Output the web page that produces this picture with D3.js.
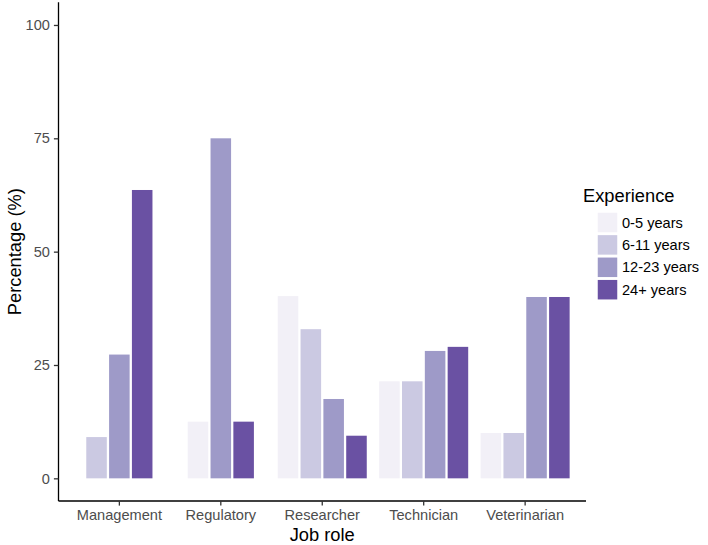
<!DOCTYPE html>
<html>
<head>
<meta charset="utf-8">
<script src="https://cdn.jsdelivr.net/npm/d3@7"></script>
<style>
  body { margin: 0; background: #fff; }
  svg text { font-family: "Liberation Sans", Arial, sans-serif; }
</style>
</head>
<body>
<div class="chart"></div>
<script>
// job roles along the x axis
const roles = ["Management", "Regulatory", "Researcher", "Technician", "Veterinarian"];
// experience bands (fill)
const groups = ["0-5 years", "6-11 years", "12-23 years", "24+ years"];
const colours = ["#F2F0F7", "#CBC9E2", "#9E9AC8", "#6A51A3"];
// percentage per role, one array per experience band (null = no bar)
const exp0to5 = [null, 12.5, 40.2, 21.4, 10];
const exp6to11 = [9.1, null, 32.9, 21.4, 10];
const exp12to23 = [27.3, 75, 17.5, 28.1, 40];
const exp24plus = [63.6, 12.5, 9.4, 29.0, 40];
const yTicks = [0, 25, 50, 75, 100];

const w = 708;
const h = 545;
const padL = 58.5, padR = 586, padT = 2.3, padB = 501;
const tickFont = "14.6px", titleFont = "18.3px";

const series = [exp0to5, exp6to11, exp12to23, exp24plus];

// long table, bars dodged within each role (missing bands dropped, rest centred)
const dataset = [];
roles.forEach((r, ri) => {
  const present = [];
  series.forEach((s, gi) => { if (s[ri] != null) present.push({ role: r, group: groups[gi], gi: gi, value: s[ri] }); });
  present.forEach((d, k) => { d.slot = k - (present.length - 1) / 2; dataset.push(d); });
});

const xScale = d3.scaleBand()
  .domain(roles)
  .range([padL, padR])
  .paddingInner(0)
  .paddingOuter(0.1);
const step = xScale.step();
const slotW = step * 0.9 / groups.length;
const barW = slotW * 0.9;

const yScale = d3.scaleLinear()
  .domain([-5, 105])
  .range([padB, padT]);

const color = d3.scaleOrdinal().domain(groups).range(colours);

const svg = d3.select(".chart")
  .append("svg")
  .attr("width", w)
  .attr("height", h);

svg.selectAll("rect.bar")
  .data(dataset)
  .enter()
  .append("rect")
  .attr("class", "bar")
  .attr("x", (d) => xScale(d.role) + step / 2 + d.slot * slotW - barW / 2)
  .attr("width", barW)
  .attr("y", (d) => yScale(d.value))
  .attr("height", (d) => yScale(0) - yScale(d.value))
  .attr("fill", (d) => color(d.group));

// axes
const xAxis = d3.axisBottom(xScale).tickSize(4.6).tickSizeOuter(0).tickPadding(4);
const yAxis = d3.axisLeft(yScale).tickValues(yTicks).tickSize(4.6).tickSizeOuter(0).tickPadding(4);

const gx = svg.append("g")
  .attr("transform", `translate(0, ${padB})`)
  .call(xAxis);
const gy = svg.append("g")
  .attr("transform", `translate(${padL}, 0)`)
  .call(yAxis);

[gx, gy].forEach((g) => {
  g.select(".domain").attr("stroke", "#000").attr("stroke-width", 1.3);
  g.selectAll(".tick line").attr("stroke", "#333").attr("stroke-width", 1.3);
  g.selectAll(".tick text").attr("fill", "#4D4D4D").style("font-size", tickFont);
});
gy.select(".domain").attr("d", `M0,${padB}V${padT}`);
gx.select(".domain").attr("d", `M${padL},0H${padR}`);

// axis titles
svg.append("text")
  .attr("text-anchor", "middle")
  .attr("x", (padL + padR) / 2)
  .attr("y", 541)
  .style("font-size", titleFont)
  .text("Job role");

svg.append("text")
  .attr("text-anchor", "middle")
  .attr("transform", `translate(20.5, ${(padT + padB) / 2}) rotate(-90)`)
  .style("font-size", titleFont)
  .text("Percentage (%)");

// legend
const legX = 597, legY = 212, keySize = 21, keyStep = 22.4;
svg.append("text")
  .attr("x", 583)
  .attr("y", 202)
  .style("font-size", titleFont)
  .text("Experience");

const legend = svg.selectAll(".legend")
  .data(groups)
  .enter()
  .append("g")
  .attr("class", "legend")
  .attr("transform", (d, i) => `translate(${legX}, ${legY + i * keyStep})`);

legend.append("rect")
  .attr("width", keySize - 1.5)
  .attr("height", keySize - 1.5)
  .attr("x", 0.75)
  .attr("y", 0.75)
  .attr("fill", (d) => color(d));

legend.append("text")
  .attr("x", 25)
  .attr("y", keySize / 2)
  .attr("dy", "0.35em")
  .attr("fill", "#000")
  .style("font-size", tickFont)
  .text((d) => d);
</script>
</body>
</html>
